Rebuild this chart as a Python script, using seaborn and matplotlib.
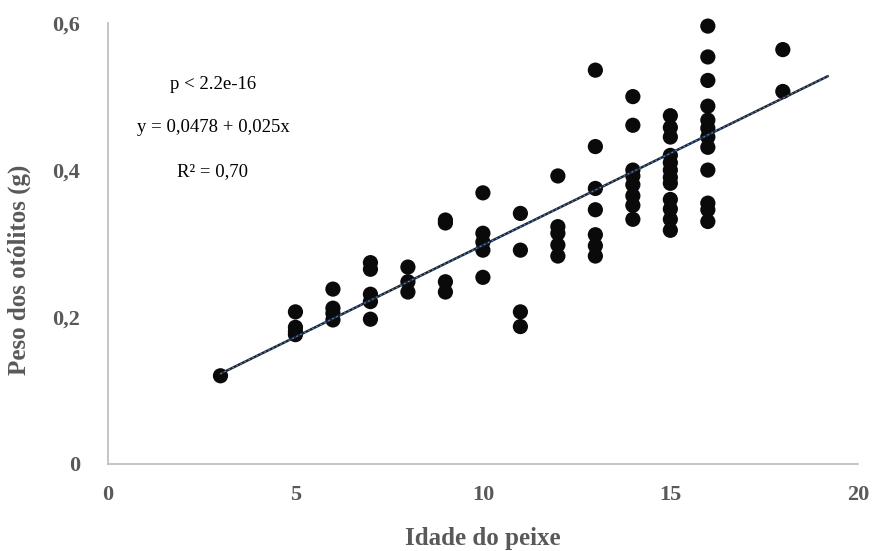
import numpy as np
import pandas as pd
import matplotlib
matplotlib.use("Agg")
import matplotlib.pyplot as plt
import seaborn as sns

# Otolith weight (g) by fish age (years)
idade = [3,
         5, 5, 5, 5,
         6, 6, 6, 6,
         7, 7, 7, 7, 7,
         8, 8, 8,
         9, 9, 9, 9,
         10, 10, 10, 10, 10,
         11, 11, 11, 11,
         12, 12, 12, 12, 12,
         13, 13, 13, 13, 13, 13, 13,
         14, 14, 14, 14, 14, 14, 14, 14,
         15, 15, 15, 15, 15, 15, 15, 15, 15, 15, 15, 15,
         16, 16, 16, 16, 16, 16, 16, 16, 16, 16, 16, 16,
         18, 18]
peso = [0.120,
        0.207, 0.186, 0.180, 0.176,
        0.238, 0.212, 0.205, 0.196,
        0.274, 0.265, 0.231, 0.221, 0.197,
        0.268, 0.248, 0.234,
        0.332, 0.328, 0.248, 0.234,
        0.369, 0.314, 0.302, 0.291, 0.254,
        0.341, 0.291, 0.207, 0.187,
        0.392, 0.323, 0.314, 0.298, 0.283,
        0.536, 0.432, 0.375, 0.346, 0.312, 0.297, 0.283,
        0.500, 0.461, 0.400, 0.392, 0.380, 0.365, 0.352, 0.333,
        0.474, 0.458, 0.445, 0.420, 0.410, 0.400, 0.390, 0.382, 0.360, 0.347, 0.333, 0.318,
        0.596, 0.554, 0.522, 0.487, 0.468, 0.457, 0.445, 0.431, 0.400, 0.355, 0.346, 0.330,
        0.564, 0.507]

# Fitted linear model
intercepto = 0.0478
inclinacao = 0.025
linha_x = [3, 19.2]

xticks = [0, 5, 10, 15, 20]
yticks = [0, 0.2, 0.4, 0.6]
ytick_labels = ["0", "0,2", "0,4", "0,6"]

anotacoes = ["p < 2.2e-16", "y = 0,0478 + 0,025x", "R² = 0,70"]

df = pd.DataFrame({"idade": idade, "peso": peso})
lx = np.array(linha_x, dtype=float)
df_linha = pd.DataFrame({"x": lx, "y": intercepto + inclinacao * lx})

sns.set_theme(style="white")
plt.rcParams["font.family"] = ["Liberation Serif", "DejaVu Serif"]

fig = plt.figure(figsize=(8.78, 5.51), dpi=100)
ax = fig.add_axes([0.123, 0.158, 0.854, 0.800])

sns.scatterplot(data=df, x="idade", y="peso", ax=ax, s=120, color="#0a0a0a",
                edgecolor="none", zorder=3, clip_on=False)
sns.lineplot(data=df_linha, x="x", y="y", ax=ax, color="#1c2633", linewidth=1.8,
             zorder=4)
ax.plot(df_linha["x"], df_linha["y"], color="#5b8bd0", linewidth=0.8,
        linestyle=(0, (1.5, 2.5)), zorder=5)

ax.set_xlim(0, 20)
ax.set_ylim(0, 0.6)
ax.set_xticks(xticks)
ax.set_yticks(yticks)
ax.set_yticklabels(ytick_labels)

gray = "#595959"
ax.tick_params(axis="both", length=0, labelsize=16, labelcolor=gray)
ax.tick_params(axis="y", pad=20)
ax.tick_params(axis="x", pad=15)
for lab in ax.get_xticklabels() + ax.get_yticklabels():
    lab.set_fontweight("bold")

ax.set_xlabel("Idade do peixe", fontsize=18, fontweight="bold", color=gray,
              labelpad=16)
ax.set_ylabel("Peso dos otólitos (g)", fontsize=18, fontweight="bold", color=gray)
ax.yaxis.set_label_coords(-0.103, 0.44)

for side in ["top", "right"]:
    ax.spines[side].set_visible(False)
for side in ["left", "bottom"]:
    ax.spines[side].set_color("#c0c0c0")
    ax.spines[side].set_linewidth(1.3)

ypos = [0.516, 0.458, 0.398]
for txt, yy in zip(anotacoes, ypos):
    ax.text(2.8, yy, txt, ha="center", va="center", fontsize=13.5, color="black")

fig.savefig("out.png", dpi=100)
